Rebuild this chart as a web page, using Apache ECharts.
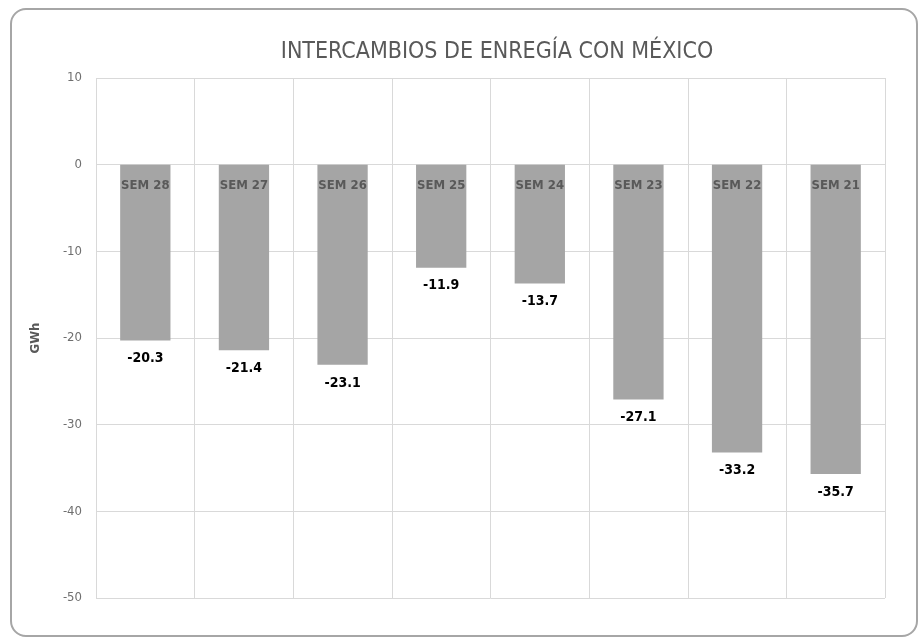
<!DOCTYPE html>
<html>
<head>
<meta charset="utf-8">
<script src="https://cdn.jsdelivr.net/npm/echarts@6/dist/echarts.min.js"></script>
<style>
html,body{margin:0;padding:0;background:#fff;}
#chart{width:922px;height:643px;}
</style>
</head>
<body>
<div id="chart"></div>
<script>
const titleText = 'INTERCAMBIOS DE ENREGÍA CON MÉXICO';
const categories = ['SEM 28','SEM 27','SEM 26','SEM 25','SEM 24','SEM 23','SEM 22','SEM 21'];
const values = [-20.3, -21.4, -23.1, -11.9, -13.7, -27.1, -33.2, -35.7];
const yAxisName = 'GWh';
const yMin = -50, yMax = 10, yInterval = 10;

const FONT = '"DejaVu Sans Condensed", "Liberation Sans Narrow", sans-serif';
const chart = echarts.init(document.getElementById('chart'));
chart.setOption({
  backgroundColor: '#fff',
  animation: false,
  graphic: [{
    type: 'rect',
    shape: { x: 11, y: 9, width: 906, height: 627, r: 15 },
    style: { fill: 'none', stroke: '#a6a6a6', lineWidth: 2 },
    silent: true, z: -1
  }],
  title: {
    text: titleText,
    left: 492, top: 36, textAlign: 'center',
    textStyle: { fontFamily: FONT, fontSize: 23, fontWeight: 'normal', color: '#595959' }
  },
  grid: { left: 96, right: 37, top: 78, bottom: 45, containLabel: false },
  xAxis: {
    type: 'category',
    data: categories,
    position: 'top',
    axisLine: { show: false },
    axisTick: { show: false },
    axisLabel: { show: false },
    splitLine: { show: true, lineStyle: { color: '#d9d9d9', width: 1 } }
  },
  yAxis: {
    type: 'value',
    min: yMin, max: yMax, interval: yInterval,
    name: yAxisName,
    nameLocation: 'middle',
    nameGap: 54,
    nameRotate: 90,
    nameTextStyle: { fontFamily: FONT, fontSize: 13, fontWeight: 'bold', color: '#595959' },
    axisLine: { show: false },
    axisTick: { show: false },
    axisLabel: { margin: 14, fontFamily: FONT, fontSize: 13, color: '#6f6f6f' },
    splitLine: { show: true, lineStyle: { color: '#d9d9d9', width: 1 } }
  },
  series: [{
    type: 'bar',
    data: values,
    barWidth: '51%',
    itemStyle: { color: '#a5a5a5' },
    label: {
      show: true,
      position: 'insideTop',
      distance: 14,
      formatter: '{b}',
      fontFamily: FONT, fontSize: 13, fontWeight: 'bold', color: '#595959'
    }
  }, {
    type: 'bar',
    data: values,
    barWidth: '51%',
    barGap: '-100%',
    itemStyle: { color: 'rgba(0,0,0,0)' },
    label: {
      show: true,
      position: 'bottom',
      distance: 11,
      formatter: (p) => p.value.toFixed(1),
      fontFamily: FONT, fontSize: 14, fontWeight: 'bold', color: '#000'
    }
  }]
});
</script>
</body>
</html>
